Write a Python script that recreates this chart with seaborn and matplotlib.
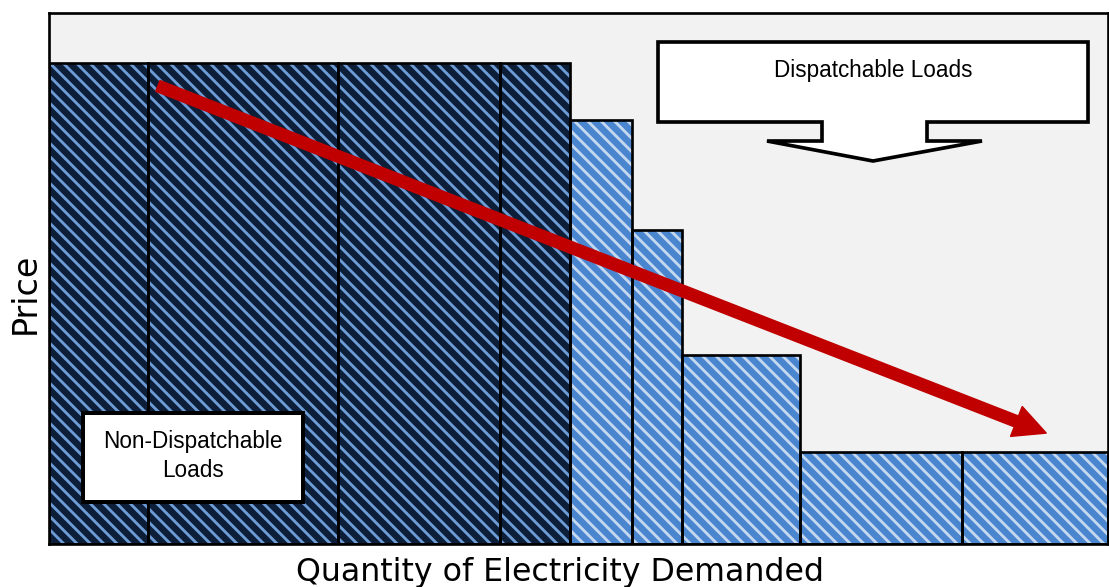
import numpy as np
import matplotlib
matplotlib.use("Agg")
import matplotlib.pyplot as plt
from matplotlib.patches import Polygon, Rectangle
import seaborn as sns

# --- data: demand blocks (quantity width, price height, type) ---
block_width = [99, 190, 162, 70, 62, 50, 118, 162, 146]
block_price = [90.6, 90.6, 90.6, 90.6, 79.8, 59.1, 35.6, 17.3, 17.3]
block_type = ["Non-Dispatchable"] * 4 + ["Dispatchable"] * 5

x_label = "Quantity of Electricity Demanded"
y_label = "Price"

# --- style ---
sns.set_style("white")
plt.rcParams["hatch.linewidth"] = 1.7
plt.rcParams["text.color"] = "black"

DPI = 120
fig = plt.figure(figsize=(1109 / DPI, 587 / DPI), dpi=DPI)
ax = fig.add_axes([49 / 1109, 43 / 587, 1059 / 1109, 531 / 587])
ax.set_facecolor("#f2f2f2")

left = np.concatenate([[0], np.cumsum(block_width)[:-1]])
colors = {"Non-Dispatchable": ("#0c1e38", "#6d9cd6"),
          "Dispatchable": ("#4a85d0", "#c4d8f0")}

for l, w, h, t in zip(left, block_width, block_price, block_type):
    face, stripe = colors[t]
    ax.bar(l, h, width=w, align="edge", color=face, edgecolor=stripe,
           hatch="\\\\\\", linewidth=0, zorder=2)
    ax.bar(l, h, width=w, align="edge", facecolor="none", edgecolor="black",
           linewidth=1.6, zorder=3)

ax.set_xlim(0, sum(block_width))
ax.set_ylim(0, 100)
ax.set_xticks([])
ax.set_yticks([])
for s in ax.spines.values():
    s.set_color("black")
    s.set_linewidth(1.6)


def px(x, y):
    # pixel position in the picture -> data coords (for annotation shapes only)
    return (x - 49), (544 - y) / 5.31


# red trend arrow
ax.annotate("", xy=px(1046, 433), xytext=px(158, 86),
            arrowprops=dict(arrowstyle="simple,head_length=0.95,head_width=0.95,tail_width=0.34",
                            color="#c00000", mutation_scale=20, shrinkA=0, shrinkB=0),
            zorder=5)

narrow = ["Liberation Sans Narrow", "Liberation Sans", "DejaVu Sans"]

# callout box for dispatchable loads
call = [(658, 42), (1088, 42), (1088, 122), (927, 122), (927, 141), (982, 141),
        (873, 161), (767, 141), (822, 141), (822, 122), (658, 122)]
ax.add_patch(Polygon([px(*p) for p in call], closed=True, facecolor="white",
                     edgecolor="black", linewidth=2.2, zorder=6))
ax.text(*px(873, 71), "Dispatchable Loads", ha="center", va="center",
        fontsize=13.5, family=narrow, zorder=7)

# box for non-dispatchable loads
x0, y0 = px(83, 502)
x1, y1 = px(303, 413)
ax.add_patch(Rectangle((x0, y0), x1 - x0, y1 - y0, facecolor="white",
                       edgecolor="black", linewidth=2.4, zorder=6))
ax.text(*px(193, 456), "Non-Dispatchable\nLoads", ha="center", va="center",
        fontsize=13.5, family=narrow, linespacing=1.3, zorder=7)

fig.text(560 / 1109, 1 - 572 / 587, x_label, ha="center", va="center",
         fontsize=19, family="DejaVu Sans")
fig.text(25 / 1109, 1 - 293 / 587, y_label, ha="center", va="center",
         rotation=90, fontsize=20, family="DejaVu Sans")

fig.savefig("out.png", dpi=DPI)
